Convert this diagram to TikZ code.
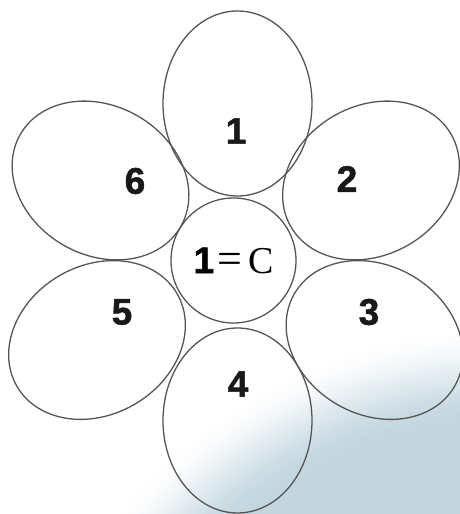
\documentclass[tikz,border=0pt]{standalone}
\usepackage{fontspec}
\setmainfont{Liberation Serif}
\setsansfont{Liberation Sans}
\newfontfamily\numfont[FakeBold=1.4]{Liberation Sans Bold}
\usetikzlibrary{shapes.geometric}
\definecolor{petalline}{HTML}{555555}
\definecolor{skyb}{HTML}{C3D6E0}
\begin{document}
\begin{tikzpicture}[x=1pt,y=1pt,
  petal/.style={ellipse, draw=petalline, line width=1.3pt, minimum width=149pt, minimum height=185pt, inner sep=0pt, outer sep=0pt},
  hub/.style={circle, draw=petalline, line width=1.3pt, minimum size=125pt, inner sep=0pt},
  num/.style={font=\numfont\fontsize{37}{37}\selectfont, text=black!90, inner sep=0pt}]
\useasboundingbox (0,0) rectangle (460,514);
\begin{scope}
  \clip (0,0) rectangle (460,514);
  \coordinate (glow) at (509,-316);
  \foreach \i in {0,...,49} {
    \pgfmathsetmacro\pc{100*(0.5-0.5*cos(\i*3.6))}
    \pgfmathsetmacro\rr{508-2*\i}
    \fill[skyb!\pc!white] (glow) circle[radius=\rr];
  }
\end{scope}
% petals
\node[petal] (p1) at (237.5,410.5) {};
\node[petal] (p4) at (237.5,93.5) {};
\node[petal, rotate=-60] (p2) at (371,333.5) {};
\node[petal, rotate=60] (p6) at (100.5,333.5) {};
\node[petal, rotate=60] (p3) at (374.5,174) {};
\node[petal, rotate=-60] (p5) at (97,174) {};
% centre
\node[hub] (hub) at (233.5,253.5) {{\numfont\fontsize{37}{37}\selectfont 1}\kern3pt{\fontsize{44}{44}\selectfont=}\kern6pt{\fontsize{38}{38}\selectfont C}};
% labels
\node[num] (n1) at (236,383) {1};
\node[num] (n2) at (347,335) {2};
\node[num] (n3) at (369,202) {3};
\node[num] (n4) at (238,130) {4};
\node[num] (n5) at (122,202) {5};
\node[num] (n6) at (135,333) {6};
\end{tikzpicture}
\end{document}
